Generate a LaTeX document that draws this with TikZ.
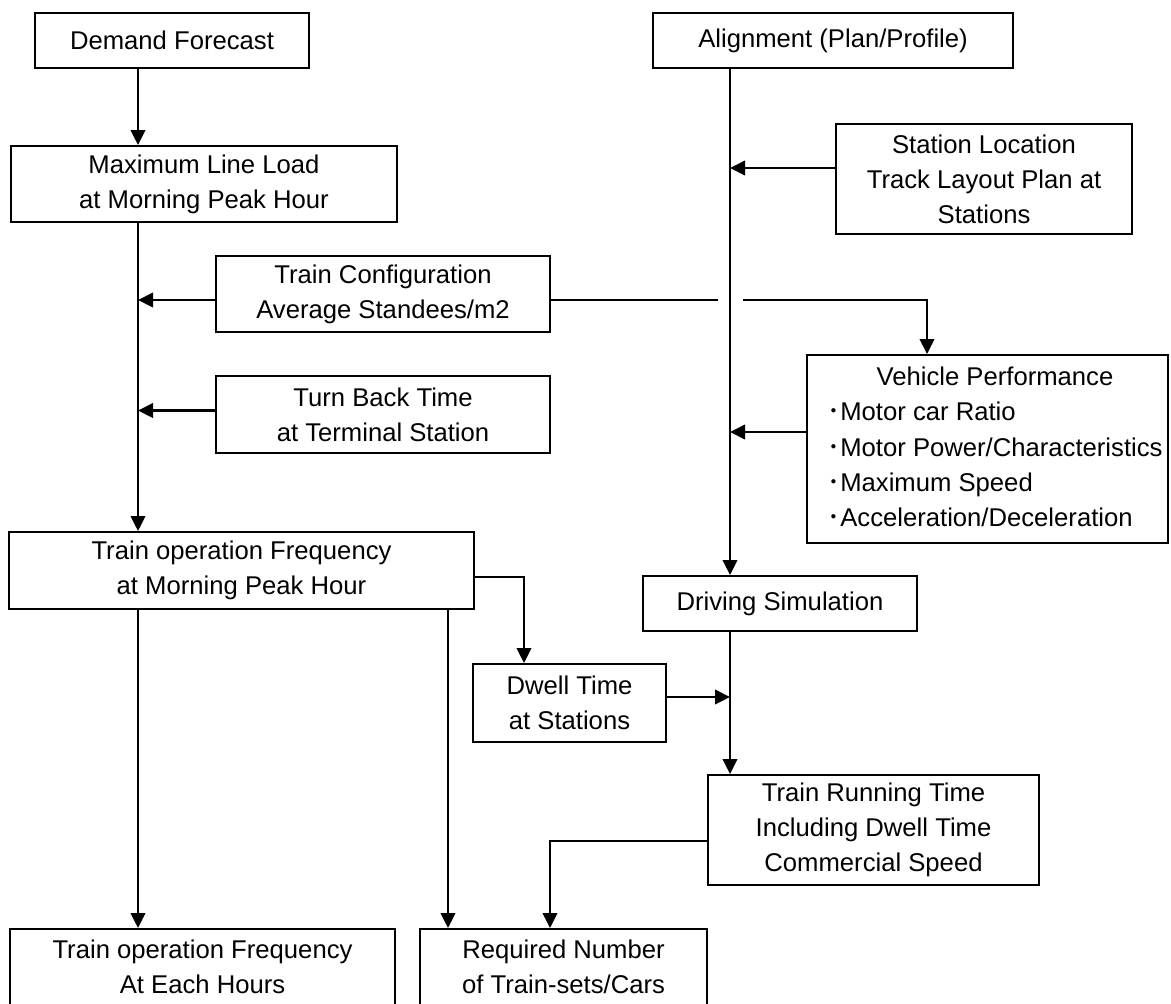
\documentclass[tikz,border=0pt]{standalone}
\usepackage{fontspec}
\setmainfont{Liberation Sans}
\newfontfamily\cjk{Noto Sans CJK JP}
\usepackage{tikz}
\usetikzlibrary{arrows.meta}
\newcommand{\vbul}{{\cjk ･}}

\begin{document}
\begin{tikzpicture}[
    box/.style={rectangle, draw=black, fill=white, line width=1.1pt, inner sep=2pt, align=center, font=\fontsize{14.6pt}{20pt}\selectfont},
    arrow/.style={-{Triangle[length=3mm, width=2.9mm]}, line width=1.2pt},
    link/.style={line width=1.2pt}
]
    \useasboundingbox (0, 0) rectangle (23.42, -20.06);

    % --- Left column: demand side ---
    \node[box, minimum width=5.48cm, minimum height=1.10cm] (demand) at (3.44, -0.81) {Demand Forecast};
    \node[box, minimum width=7.72cm, minimum height=1.52cm] (maxload) at (4.08, -3.68) {Maximum Line Load\\at Morning Peak Hour};
    \node[box, minimum width=6.68cm, minimum height=1.52cm] (config) at (7.66, -5.88) {Train Configuration\\Average Standees/m2};
    \node[box, minimum width=6.68cm, minimum height=1.54cm] (turnback) at (7.66, -8.29) {Turn Back Time\\at Terminal Station};
    \node[box, minimum width=9.30cm, minimum height=1.54cm] (freq) at (4.83, -11.41) {Train operation Frequency\\at Morning Peak Hour};

    % --- Right column: alignment side ---
    \node[box, minimum width=7.20cm, minimum height=1.10cm] (align) at (16.66, -0.81) {Alignment (Plan/Profile)};
    \node[box, minimum width=5.92cm, minimum height=2.20cm] (station) at (19.68, -3.58) {Station Location\\Track Layout Plan at\\Stations};
    \node[box, minimum width=7.22cm, minimum height=3.76cm] (vehicle) at (19.75, -8.98) {\begin{tabular}{@{\hspace{0.3cm}}l@{}}\multicolumn{1}{@{\hspace{0.3cm}}c@{}}{Vehicle Performance}\\
        \vbul Motor car Ratio\\
        \vbul Motor Power/Characteristics\\
        \vbul Maximum Speed\\
        \vbul Acceleration/Deceleration\end{tabular}};
    \node[box, minimum width=5.48cm, minimum height=1.10cm] (driving) at (15.60, -12.07) {Driving Simulation};
    \node[box, minimum width=3.86cm, minimum height=1.56cm] (dwell) at (11.39, -14.06) {Dwell Time\\at Stations};
    \node[box, minimum width=6.62cm, minimum height=2.20cm] (running) at (17.47, -16.60) {Train Running Time\\Including Dwell Time\\Commercial Speed};

    % --- Bottom row: results ---
    \node[box, minimum width=7.70cm, minimum height=1.52cm] (hours) at (4.05, -19.34) {Train operation Frequency\\At Each Hours};
    \node[box, minimum width=5.74cm, minimum height=1.52cm] (required) at (11.27, -19.34) {Required Number\\of Train-sets/Cars};

    % Trunk lines and drop points
    \coordinate (lx) at (2.76, 0);
    \coordinate (rx) at (14.60, 0);
    \coordinate (gapL) at (14.36, 0);
    \coordinate (gapR) at (14.86, 0);
    \coordinate (vx) at (18.54, 0);
    \coordinate (dx) at (10.48, 0);
    \coordinate (fx) at (8.96, 0);
    \coordinate (qx) at (11.00, 0);

    % Connections left trunk
    \draw[arrow] (demand.south -| lx) -- (maxload.north -| lx);
    \draw[arrow] (maxload.south -| lx) -- (freq.north -| lx);
    \draw[arrow] ([yshift=-1.2mm]config.west) -- ([yshift=-1.2mm]config.west -| lx);
    \draw[arrow] ([yshift=0.8mm]turnback.west) -- ([yshift=0.8mm]turnback.west -| lx);
    \draw[arrow] (freq.south -| lx) -- (hours.north -| lx);
    \draw[arrow] (freq.south -| fx) -- (required.north -| fx);

    % Connections right trunk
    \draw[arrow] (align.south -| rx) -- (driving.north -| rx);
    \draw[arrow] ([yshift=2.2mm]station.west) -- ([yshift=2.2mm]station.west -| rx);
    \draw[arrow] ([yshift=3.4mm]vehicle.west) -- ([yshift=3.4mm]vehicle.west -| rx);
    \draw[arrow] (driving.south -| rx) -- (running.north -| rx);
    \draw[arrow] ([yshift=1.2mm]dwell.east) -- ([yshift=1.2mm]dwell.east -| rx);

    % Train configuration -> vehicle performance (gap over trunk)
    \draw[link] ([yshift=-1.2mm]config.east) -- ([yshift=-1.2mm]config.east -| gapL);
    \draw[arrow] ([yshift=-1.2mm]config.east -| gapR) -| (vehicle.north -| vx);

    % Cross links
    \draw[arrow] ([yshift=-1.3mm]freq.east) -| (dwell.north -| dx);
    \draw[arrow] ([yshift=-2.2mm]running.west) -| (required.north -| qx);
\end{tikzpicture}
\end{document}
